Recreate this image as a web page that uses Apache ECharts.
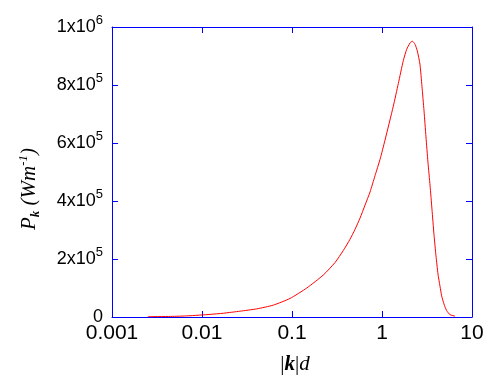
<!DOCTYPE html>
<html>
<head>
<meta charset="utf-8">
<script src="https://cdn.jsdelivr.net/npm/echarts@6/dist/echarts.min.js"></script>
<style>
  html, body { margin: 0; padding: 0; background: #fff; }
  #main { width: 490px; height: 380px; }
</style>
</head>
<body>
<div id="main"></div>
<script>
// |k|d values and the power per unit length P_k (W m^-1)
var kd = [0.0025, 0.0045, 0.007, 0.0123, 0.0173, 0.0264, 0.0405, 0.062, 0.095, 0.146,
  0.223, 0.301, 0.371, 0.441, 0.501, 0.570, 0.648, 0.736, 0.836, 0.950, 1.08, 1.336, 1.518, 1.725, 1.88,
  2.05, 2.17, 2.33, 2.47, 2.64, 2.78, 2.93, 3.08, 3.24, 3.42, 3.59, 3.78, 3.98,
  4.19, 4.41, 4.60, 4.88, 5.23, 5.70, 6.47];
var pk = [1000, 2000, 4000, 9000, 13000, 20000, 28000, 41000, 64000, 100000,
  145000, 188000, 229000, 268000, 302000, 341000, 386000, 431000, 487000, 543000, 610000, 727000, 805000, 884000, 923000,
  945000, 951000, 940000, 917000, 872000, 795000, 711000, 621000, 534000, 453000, 372000, 285000, 211000,
  148000, 106000, 73000, 45000, 22000, 8000, 3000];

var xTicks = ['0.001', '0.01', '0.1', '1', '10'];

var blue = '#0000ff';
var chart = echarts.init(document.getElementById('main'));

function yLabel(v) {
  if (v === 0) return '{b|0}';
  var e = v >= 1e6 ? 6 : 5;
  var m = Math.round(v / Math.pow(10, e));
  return '{b|' + m + 'x10}{s|' + e + '}';
}

var option = {
  animation: false,
  grid: { left: 112, right: 18, top: 27, bottom: 55 },
  xAxis: [
    {
      type: 'log',
      logBase: 10,
      min: 0.001,
      max: 10,
      position: 'bottom',
      axisLine: { onZero: false, lineStyle: { color: blue, width: 1 } },
      axisTick: { inside: true, length: 6, lineStyle: { color: blue } },
      splitLine: { show: false },
      axisLabel: {
        margin: 6,
        color: '#000',
        fontSize: 21,
        fontFamily: 'Liberation Sans',
        formatter: function (v) {
          var s = parseFloat(v.toPrecision(3)).toString();
          return xTicks.indexOf(s) >= 0 ? s : '';
        }
      },
      name: '{n||}{b|k}{n||}{i|d}',
      nameLocation: 'middle',
      nameGap: 37,
      nameTextStyle: {
        padding: [0, 0, 0, 6],
        rich: {
          n: { fontSize: 21, fontFamily: 'Liberation Serif', color: '#000' },
          b: { fontSize: 21, fontFamily: 'Liberation Serif', fontStyle: 'italic', fontWeight: 'bold', color: '#000' },
          i: { fontSize: 21, fontFamily: 'Liberation Serif', fontStyle: 'italic', color: '#000' }
        }
      }
    },
    {
      type: 'log',
      logBase: 10,
      min: 0.001,
      max: 10,
      position: 'top',
      axisLine: { onZero: false, lineStyle: { color: blue, width: 1 } },
      axisTick: { inside: true, length: 6, lineStyle: { color: blue } },
      splitLine: { show: false },
      axisLabel: { show: false }
    }
  ],
  yAxis: [
    {
      type: 'value',
      min: 0,
      max: 1000000,
      interval: 200000,
      position: 'left',
      axisLine: { show: true, onZero: false, lineStyle: { color: blue, width: 1 } },
      axisTick: { show: true, inside: true, length: 6, lineStyle: { color: blue } },
      splitLine: { show: false },
      axisLabel: {
        margin: 9,
        formatter: yLabel,
        rich: {
          b: { fontSize: 18, fontFamily: 'Liberation Sans', color: '#000' },
          s: { fontSize: 13, fontFamily: 'Liberation Sans', color: '#000', verticalAlign: 'top', padding: [0, 0, 14, 0] }
        }
      },
      name: '{i|P}{k|k}{i| (Wm}{s|-1}{i|)}',
      nameLocation: 'middle',
      nameRotate: 90,
      nameGap: 70,
      nameTextStyle: {
        padding: [0, 34, 0, 0],
        rich: {
          i: { fontSize: 21, fontFamily: 'Liberation Serif', fontStyle: 'italic', color: '#000' },
          k: { fontSize: 13, fontFamily: 'Liberation Serif', fontStyle: 'italic', fontWeight: 'bold', color: '#000', verticalAlign: 'bottom', padding: [12, 0, 0, 0] },
          s: { fontSize: 13, fontFamily: 'Liberation Serif', fontStyle: 'italic', color: '#000', verticalAlign: 'top', padding: [0, 0, 12, 0] }
        }
      }
    },
    {
      type: 'value',
      min: 0,
      max: 1000000,
      interval: 200000,
      position: 'right',
      axisLine: { show: true, onZero: false, lineStyle: { color: blue, width: 1 } },
      axisTick: { show: true, inside: true, length: 6, lineStyle: { color: blue } },
      splitLine: { show: false },
      axisLabel: { show: false }
    }
  ],
  series: [
    {
      type: 'line',
      xAxisIndex: 0,
      yAxisIndex: 0,
      smooth: 0.2,
      showSymbol: false,
      lineStyle: { color: '#ff0000', width: 1 },
      itemStyle: { color: '#ff0000' },
      data: kd.map(function (k, i) { return [k, pk[i]]; })
    }
  ]
};

chart.setOption(option);
</script>
</body>
</html>
